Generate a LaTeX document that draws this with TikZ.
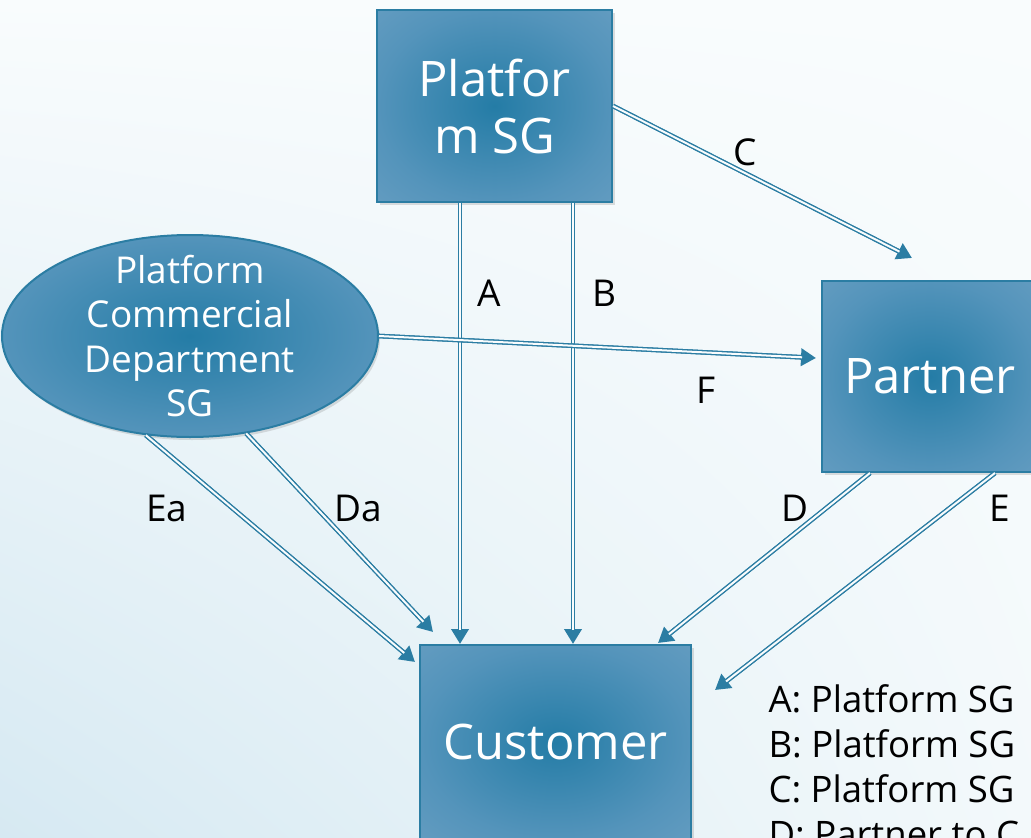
\documentclass[tikz,border=0pt]{standalone}
\usepackage{fontspec}
\setmainfont{Open Sans}
\usetikzlibrary{shapes.geometric,arrows.meta,shadows,shadings}

\definecolor{sgline}{RGB}{43,125,163}
\definecolor{sginner}{RGB}{36,124,166}
\definecolor{sgmid}{RGB}{84,148,187}
\definecolor{sgedge}{RGB}{118,166,199}
\definecolor{sgcorner}{RGB}{176,202,221}
\definecolor{bgwhite}{RGB}{249,252,253}
\definecolor{bgright}{RGB}{243,249,251}
\definecolor{bgblue}{RGB}{214,233,242}

\pgfdeclareradialshading{sgglow}{\pgfpoint{0bp}{0bp}}{color(0bp)=(sginner); color(25bp)=(sgmid); color(50bp)=(sgedge); color(71bp)=(sgcorner)}

\tikzset{
  sgbox/.style={rectangle, draw=sgline, line width=2pt, shading=sgglow,
    text=white, inner sep=0pt, align=center,
    drop shadow={opacity=0.25, shadow xshift=3pt, shadow yshift=-3pt},
    font=\fontsize{49}{57}\selectfont},
  sgoval/.style={ellipse, draw=sgline, line width=2pt, shading=sgglow,
    text=white, inner xsep=0pt, inner ysep=-16pt, align=center,
    drop shadow={opacity=0.25, shadow xshift=2pt, shadow yshift=-3pt},
    font=\fontsize{37}{44.5}\selectfont},
  link/.style={draw=sgline, double=bgwhite, double distance=2pt, line width=1.3pt,
    shorten >=14pt,
    preaction={draw=sgline, line width=4.6pt, shorten >=0pt,
      -{Triangle[length=15pt,width=17pt]}}},
  lbl/.style={font=\fontsize{37}{44}\selectfont},
  legend/.style={anchor=base west, font=\fontsize{36.5}{45}\selectfont}
}

\begin{document}
\begin{tikzpicture}[x=1pt, y=-1pt]
  \useasboundingbox (0,0) rectangle (1031,838);
  \shade[upper left=bgwhite, upper right=bgwhite, lower left=bgblue, lower right=bgright]
    (0,0) rectangle (1031,838);

  % boxes
  \node[sgbox, minimum width=235pt, minimum height=192pt] (psg) at (494.5,106) {Platfor\\m SG};
  \node[sgoval, minimum width=376pt, minimum height=202pt] (pcd) at (190,336)
    {Platform\\Commercial\\Department\\SG};
  \node[sgbox, minimum width=216pt, minimum height=191pt] (partner) at (930,376.5) {Partner};
  \node[sgbox, minimum width=271pt, minimum height=194pt] (cust) at (555.5,742) {Customer};

  % free arrow ends
  \coordinate (ctip) at (912,258);
  \coordinate (ftip) at (816,358);
  \coordinate (eatip) at (415,662);
  \coordinate (datip) at (433,632);
  \coordinate (dtip) at (658,643);
  \coordinate (etip) at (715,690);

  % links
  \draw[link] ([xshift=-34.5pt]psg.south) -- ([xshift=-34.5pt]psg.south |- cust.north);
  \draw[link] ([xshift=78.5pt]psg.south) -- ([xshift=78.5pt]psg.south |- cust.north);
  \draw[link] (psg.east) -- (ctip);
  \draw[link] (pcd.east) -- (ftip);
  \draw[link] (pcd.246.7) -- (eatip);
  \draw[link] (pcd.300) -- (datip);
  \draw[link] ([xshift=-60pt]partner.south) -- (dtip);
  \draw[link] ([xshift=65pt]partner.south) -- (etip);

  % labels
  \node[lbl] (labA) at (489,293) {A};
  \node[lbl] (labB) at (604,293) {B};
  \node[lbl] (labC) at (745,152) {C};
  \node[lbl] (labF) at (706,390) {F};
  \node[lbl] (labEa) at (167,508) {Ea};
  \node[lbl] (labDa) at (358,508) {Da};
  \node[lbl] (labD) at (795,508) {D};
  \node[lbl] (labE) at (1000,508) {E};

  % legend
  \node[legend] (legA) at (765,712) {A: Platform SG};
  \node[legend] (legB) at (765,757) {B: Platform SG};
  \node[legend] (legC) at (765,802) {C: Platform SG};
  \node[legend] (legD) at (765,847) {D: Partner to C};
\end{tikzpicture}
\end{document}
